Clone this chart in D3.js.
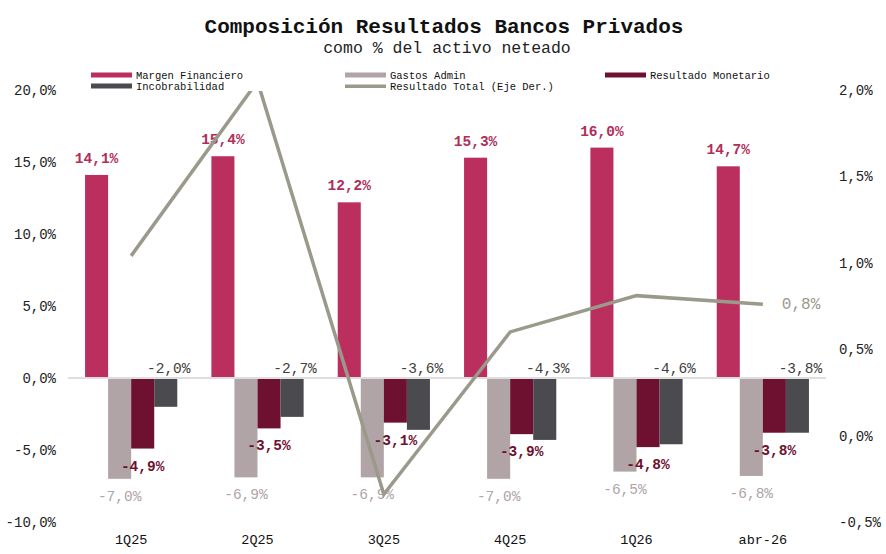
<!DOCTYPE html>
<html>
<head>
<meta charset="utf-8">
<script src="https://cdn.jsdelivr.net/npm/d3@7"></script>
<style>
  body { margin: 0; background: #fff; }
  text { font-family: "Liberation Mono", "Courier New", monospace; }
</style>
</head>
<body>
<div id="output"></div>
<script>
var w = 886;
var h = 554;

var categories = ['1Q25', '2Q25', '3Q25', '4Q25', '1Q26', 'abr-26'];
var margen = [14.1, 15.4, 12.2, 15.3, 16.0, 14.7];
var gastos = [-7.0, -6.9, -6.9, -7.0, -6.5, -6.8];
var monetario = [-4.9, -3.5, -3.1, -3.9, -4.8, -3.8];
var incob = [-2.0, -2.7, -3.6, -4.3, -4.6, -3.8];
var total = [1.04, 2.05, -0.34, 0.60, 0.81, 0.76];
var leftTicks = [-10, -5, 0, 5, 10, 15, 20];
var rightTicks = [-0.5, 0, 0.5, 1.0, 1.5, 2.0];

var seriesNames = ['Margen Financiero', 'Gastos Admin', 'Resultado Monetario', 'Incobrabilidad'];
var colors = ['#bb2f5e', '#b0a4a6', '#6e1030', '#4a4a4f'];
var labelColors = ['#b02e5a', '#b0a4a6', '#6e1030', '#404040'];
var lineColor = '#9a998a';

var plotL = 68, plotR = 826, plotT = 90, plotB = 522;

var fmt = function (v, d) { return v.toFixed(d).replace('.', ',') + '%'; };

var svg = d3.select('#output').append('svg')
  .attr('width', w)
  .attr('height', h);

var x0 = d3.scaleBand().domain(categories).range([plotL, plotR])
  .paddingInner(0.27).paddingOuter(0.135);
var x1 = d3.scaleBand().domain(d3.range(4)).range([0, x0.bandwidth()]);
var y = d3.scaleLinear().domain([-10, 20]).range([plotB, plotT]);
var y2 = d3.scaleLinear().domain([-0.5, 2.0]).range([plotB, plotT]);

// title
svg.append('text').attr('x', 444).attr('y', 33).attr('text-anchor', 'middle')
  .attr('font-size', 21).attr('font-weight', 'bold').attr('fill', '#111')
  .text('Composición Resultados Bancos Privados');
svg.append('text').attr('x', 447).attr('y', 53).attr('text-anchor', 'middle')
  .attr('font-size', 16.5).attr('fill', '#222')
  .text('como % del activo neteado');

// axes (labels only)
var yAxis = d3.axisLeft(y).tickValues(leftTicks).tickSize(0).tickPadding(0)
  .tickFormat(function (d) { return fmt(d, 1); });
svg.append('g').attr('transform', 'translate(56,0)').call(yAxis)
  .call(function (g) { g.select('.domain').remove(); })
  .selectAll('text').attr('font-size', 14).attr('fill', '#222')
  .style('font-family', '"Liberation Mono", monospace');

var yAxis2 = d3.axisRight(y2).tickValues(rightTicks).tickSize(0).tickPadding(0)
  .tickFormat(function (d) { return fmt(d, 1); });
svg.append('g').attr('transform', 'translate(839,0)').call(yAxis2)
  .call(function (g) { g.select('.domain').remove(); })
  .selectAll('text').attr('font-size', 14).attr('fill', '#222')
  .style('font-family', '"Liberation Mono", monospace');

var xAxis = d3.axisBottom(x0).tickSize(0).tickPadding(0);
svg.append('g').attr('transform', 'translate(0,534)').call(xAxis)
  .call(function (g) { g.select('.domain').remove(); })
  .selectAll('text').attr('font-size', 13.5).attr('fill', '#111')
  .style('font-family', '"Liberation Mono", monospace');

// bars
var data = [margen, gastos, monetario, incob];
var groups = svg.selectAll('g.series')
  .data(data)
  .enter()
  .append('g')
  .attr('class', 'series')
  .attr('fill', function (d, i) { return colors[i]; });

groups.each(function (vals, si) {
  d3.select(this).selectAll('rect')
    .data(vals)
    .enter()
    .append('rect')
    .attr('x', function (d, i) { return x0(categories[i]) + x1(si); })
    .attr('width', x1.bandwidth())
    .attr('y', function (d) { return y(Math.max(0, d)); })
    .attr('height', function (d) { return Math.abs(y(d) - y(0)); });
});

// zero line
svg.append('line')
  .attr('x1', plotL).attr('x2', plotR)
  .attr('y1', y(0)).attr('y2', y(0))
  .attr('stroke', '#dedede').attr('stroke-width', 2);

// total line (right axis), clipped to plot area
svg.append('clipPath').attr('id', 'plot')
  .append('rect').attr('x', plotL).attr('y', plotT + 1)
  .attr('width', plotR - plotL).attr('height', plotB - plotT);

var line = d3.line()
  .x(function (d, i) { return x0(categories[i]) + x0.bandwidth() / 2; })
  .y(function (d) { return y2(d); });

svg.append('path')
  .datum(total)
  .attr('d', line)
  .attr('clip-path', 'url(#plot)')
  .attr('fill', 'none')
  .attr('stroke', lineColor)
  .attr('stroke-width', 3.5);

svg.append('text')
  .attr('x', x0(categories[5]) + x0.bandwidth() / 2 + 19)
  .attr('y', y2(total[5]) + 5)
  .attr('font-size', 16).attr('fill', lineColor)
  .text(fmt(total[5], 1));

// value labels
groups.each(function (vals, si) {
  d3.select(this).selectAll('text')
    .data(vals)
    .enter()
    .append('text')
    .text(function (d) { return fmt(d, 1); })
    .attr('text-anchor', 'middle')
    .attr('x', function (d, i) { return x0(categories[i]) + x1(si) + x1.bandwidth() / 2 + (si === 3 ? 3 : 0); })
    .attr('y', function (d) {
      if (si === 0) return y(d) - 12;
      if (si === 3) return y(0) - 5;
      return y(d) + 22;
    })
    .attr('font-size', 14.5)
    .attr('font-weight', si === 0 || si === 2 ? 'bold' : 'normal')
    .attr('fill', labelColors[si]);
});

// legend
var legendItems = [
  { name: seriesNames[0], color: colors[0], x: 91, y: 75, type: 'rect' },
  { name: seriesNames[1], color: colors[1], x: 345, y: 75, type: 'rect' },
  { name: seriesNames[2], color: colors[2], x: 605, y: 75, type: 'rect' },
  { name: seriesNames[3], color: colors[3], x: 91, y: 86, type: 'rect' },
  { name: 'Resultado Total (Eje Der.)', color: lineColor, x: 345, y: 86, type: 'line' }
];
var legend = svg.selectAll('g.legend')
  .data(legendItems)
  .enter()
  .append('g')
  .attr('class', 'legend')
  .attr('transform', function (d) { return 'translate(' + d.x + ',' + d.y + ')'; });

legend.append('rect')
  .attr('x', 0)
  .attr('y', function (d) { return d.type === 'line' ? -1.5 : -2.5; })
  .attr('width', 41)
  .attr('height', function (d) { return d.type === 'line' ? 3.5 : 5; })
  .attr('fill', function (d) { return d.color; });

legend.append('text')
  .attr('x', 45).attr('y', 3.5)
  .attr('font-size', 10.5).attr('fill', '#111')
  .text(function (d) { return d.name; });
</script>
</body>
</html>
